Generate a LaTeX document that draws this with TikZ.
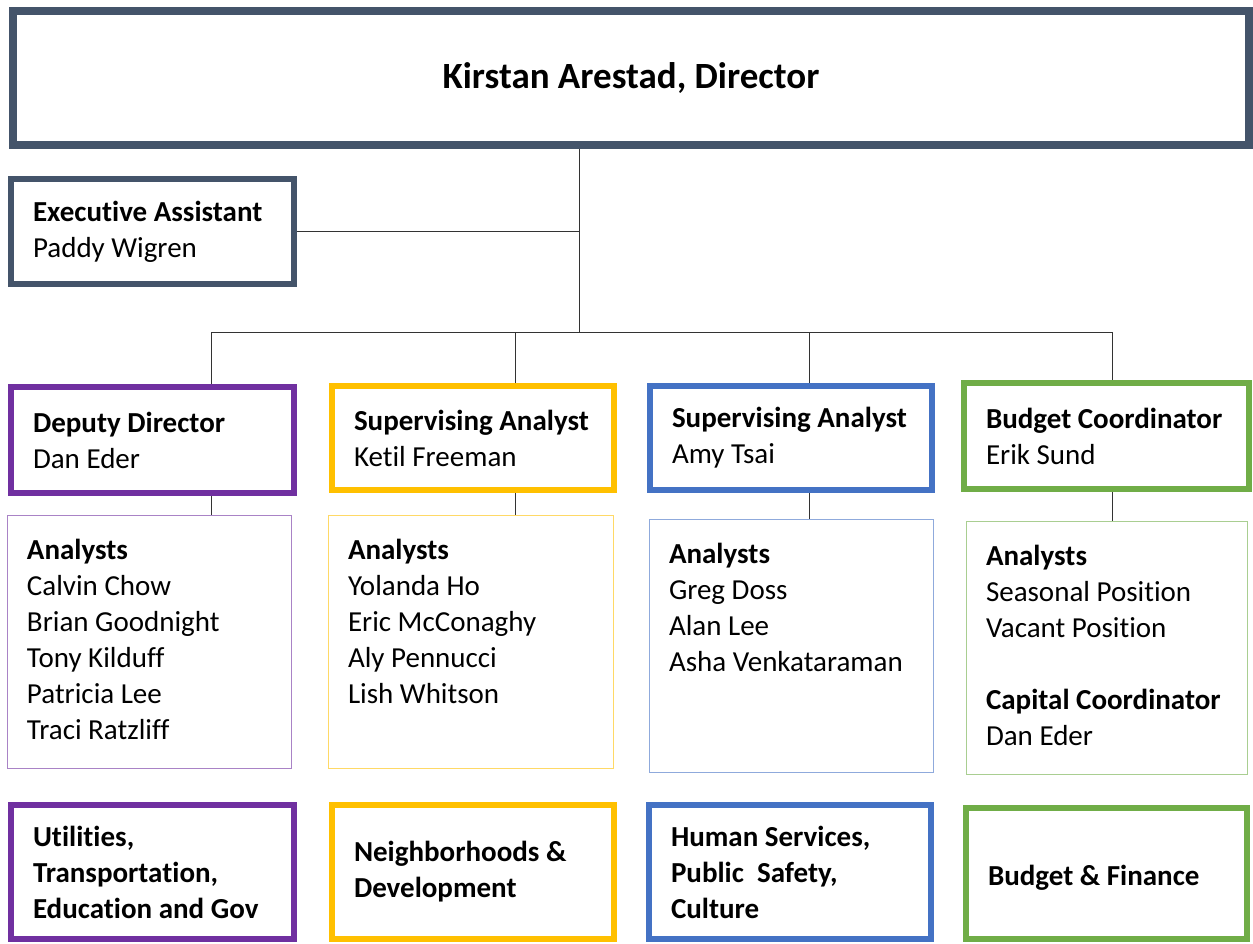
\documentclass[tikz,border=0pt]{standalone}
\usepackage{fontspec}
\setmainfont{Carlito}[Ligatures=NoCommon]

\definecolor{slate}{HTML}{44546A}
\definecolor{plum}{HTML}{7030A0}
\definecolor{gold}{HTML}{FFC000}
\definecolor{steel}{HTML}{4472C4}
\definecolor{leaf}{HTML}{70AD47}

\tikzset{
  chief/.style={draw=slate, line width=8pt, minimum width=1236pt,
    minimum height=134.5pt, font=\fontsize{37}{44}\selectfont\bfseries},
  role/.style={draw=#1, line width=6pt, inner xsep=22pt, inner ysep=0pt,
    align=left, font=\fontsize{29}{36}\selectfont,
    execute at begin node={\spaceskip=0pt\xspaceskip=0pt}},
  unit/.style={role=#1, font=\fontsize{29}{36}\selectfont\bfseries},
  listbox/.style={draw=#1!60, line width=1pt, inner xsep=20pt, inner ysep=24pt,
    font=\fontsize{29}{36}\selectfont},
  wire/.style={draw=black!80, line width=1pt}
}
\newcommand{\roster}[2]{\parbox[t][205pt][t]{#1}{#2}}

\begin{document}
\begin{tikzpicture}[x=1pt,y=-1pt]
  \useasboundingbox (0,0) rectangle (1253,943);
  %%%%%%%%%%%%%%%%%%%%%%%%%%%%%%%%%%%%%%%%%%%%%%
  %%% Director and assistant
  %%%%%%%%%%%%%%%%%%%%%%%%%%%%%%%%%%%%%%%%%%%%%%
  \node[chief] (dir) at (631,78) {Kirstan Arestad, Director};
  \node[role=slate, text width=239pt, minimum height=105pt] (exec) at (152.5,231.5)
    {\textbf{Executive Assistant}\\Paddy Wigren};

  % Second row: the four leads
  \node[role=plum, text width=239pt, minimum height=106pt] (dep) at (152.5,440)
    {\textbf{Deputy Director}\\Dan Eder};
  \node[role=gold, text width=238pt, minimum height=104pt] (ketil) at (473,438)
    {\textbf{Supervising Analyst}\\Ketil Freeman};
  \node[role=steel, text width=238pt, minimum height=104pt] (amy) at (791,438)
    {\textbf{Supervising Analyst}\\Amy Tsai};
  \node[role=leaf, text width=241pt, minimum height=106pt] (erik) at (1106.5,436)
    {\textbf{Budget Coordinator}\\Erik Sund};

  % Analysts under each lead
  \node[listbox=plum] (dep-list) at (149,641.5)
    {\roster{244pt}{\textbf{Analysts}\\Calvin Chow\\Brian Goodnight\\Tony Kilduff\\Patricia Lee\\Traci Ratzliff}};
  \node[listbox=gold] (ketil-list) at (470.5,641.5)
    {\roster{245pt}{\textbf{Analysts}\\Yolanda Ho\\Eric McConaghy\\Aly Pennucci\\Lish Whitson}};
  \node[listbox=steel] (amy-list) at (791,645.5)
    {\roster{244pt}{\textbf{Analysts}\\Greg Doss\\Alan Lee\\Asha Venkataraman}};
  \node[listbox=leaf] (erik-list) at (1106.5,647.5)
    {\roster{241pt}{\textbf{Analysts}\\Seasonal Position\\Vacant Position\\[36pt]\textbf{Capital Coordinator}\\Dan Eder}};

  % Subject areas at the bottom
  \node[unit=plum, text width=239pt, minimum height=134pt] (dep-area) at (152.5,872)
    {Utilities,\\Transportation,\\Education and Gov};
  \node[unit=gold, text width=238pt, minimum height=134pt] (ketil-area) at (473,872)
    {Neighborhoods \&\\Development};
  \node[unit=steel, text width=238pt, minimum height=134pt] (amy-area) at (790,872)
    {Human Services,\\Public\ \ Safety,\\Culture};
  \node[unit=leaf, text width=237pt, minimum height=131pt, text height=24pt,
    text depth=0pt] (erik-area) at (1106.5,873.5) {Budget \& Finance};

  %%%%%%%%%%%%%%%%%%%%%%%%%%%%%%%%%%%%%%%%%%%%%%
  %%% Connectors
  %%%%%%%%%%%%%%%%%%%%%%%%%%%%%%%%%%%%%%%%%%%%%%
  \coordinate (hub) at (579,332);
  \draw[wire] (dir.south -| hub) -- (hub);
  \draw[wire] (exec.east) -- (exec.east -| hub);
  \foreach \n/\x in {dep/211,ketil/515,amy/809,erik/1112}
      \coordinate (drop-\n) at (\x,332);
  \draw[wire] (drop-dep) -- (drop-erik);
  \foreach \n in {dep,ketil,amy,erik}
  {\draw[wire] (drop-\n) -- (drop-\n |- \n.north);
   \draw[wire] (\n.south -| drop-\n) -- (drop-\n |- \n-list.north);
  }
\end{tikzpicture}
\end{document}
